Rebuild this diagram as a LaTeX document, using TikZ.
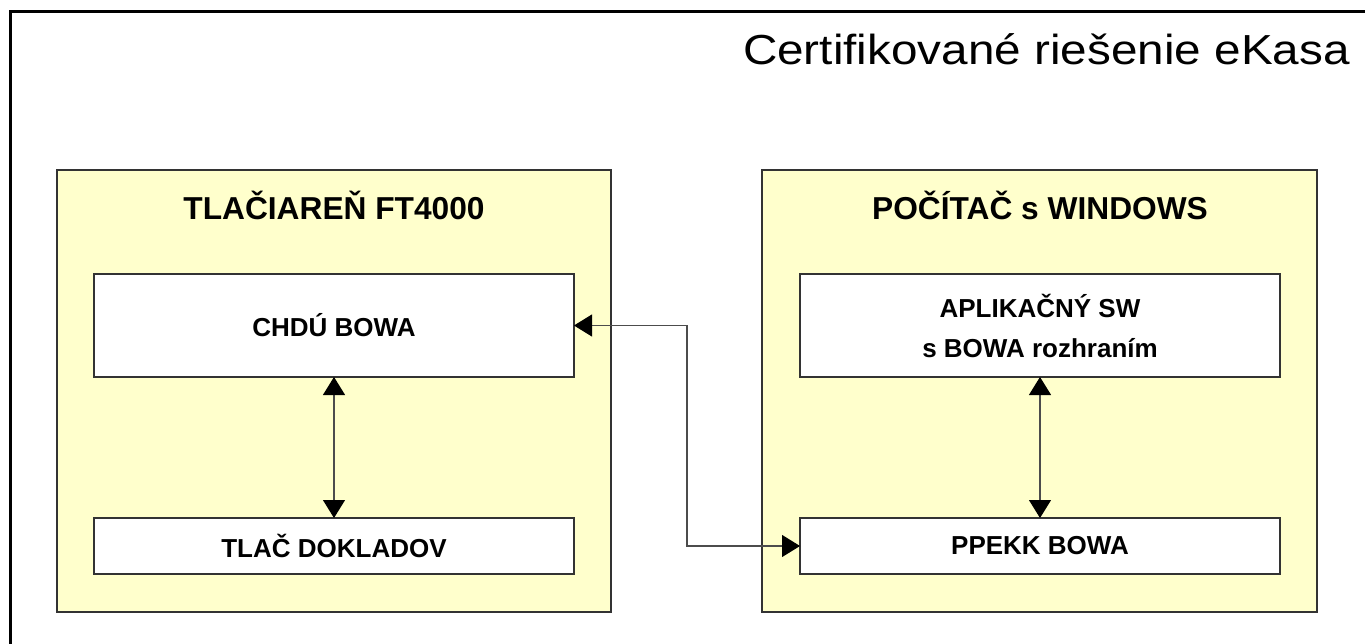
\documentclass[tikz,border=0pt]{standalone}
\usepackage{fontspec}
\setmainfont{Liberation Sans}
\usetikzlibrary{arrows.meta}
\definecolor{boxyellow}{HTML}{FFFFCC}
\definecolor{edge}{HTML}{333333}
\tikzset{
  group/.style={draw=edge, line width=1.3pt, fill=boxyellow, rectangle, inner sep=0pt, outer sep=0pt},
  inner/.style={draw=edge, line width=1.3pt, fill=white, rectangle, inner sep=0pt, outer sep=0pt,
    align=center, font=\fontsize{26}{40}\selectfont\bfseries, minimum width=480pt},
  heading/.style={font=\fontsize{31.7}{38}\selectfont\bfseries, inner sep=0pt, anchor=base},
  conn/.style={draw=black!70, line width=1.1pt,
    {Triangle[length=18pt,width=22pt,black,fill=black]}-{Triangle[length=18pt,width=22pt,black,fill=black]}},
}
\begin{document}
\begin{tikzpicture}[x=1pt,y=-1pt]
\useasboundingbox (0,0) rectangle (1365,644);
\fill[white] (0,0) rectangle (1365,644);
% outer frame (clipped on right and bottom)
\draw[line width=3pt, line cap=rect] (10.5,650) -- (10.5,11.5) -- (1370,11.5);
\node[font=\fontsize{42}{50}\selectfont, inner sep=0pt, anchor=base east] (title) at (1350,65)
  {\scalebox{1.135}[1]{Certifikované riešenie eKasa}};
% group boxes
\node[group, minimum width=554pt, minimum height=442pt] (left) at (334,391) {};
\node[group, minimum width=555pt, minimum height=442pt] (right) at (1039.5,391) {};
\node[heading] (lh) at (334,219.5) {TLAČIAREŇ FT4000};
\node[heading] (rh) at (1040,219.5) {POČÍTAČ s WINDOWS};
% inner boxes
\node[inner, minimum height=103pt] (chdu) at (334,325.5) {CHDÚ BOWA};
\node[inner, minimum height=56pt] (tlac) at (334,546) {TLAČ DOKLADOV};
\node[inner, minimum height=103pt] (aplik) at (1040,325.5) {APLIKAČNÝ SW\\s BOWA rozhraním};
\node[inner, minimum height=56pt] (ppekk) at (1040,546) {PPEKK BOWA};
% connectors
\coordinate (mid) at (687,436);
\draw[conn] (chdu.east) -| (mid) |- (ppekk.west);
\draw[conn] (chdu.south) -- (tlac.north);
\draw[conn] (aplik.south) -- (ppekk.north);
\end{tikzpicture}
\end{document}
